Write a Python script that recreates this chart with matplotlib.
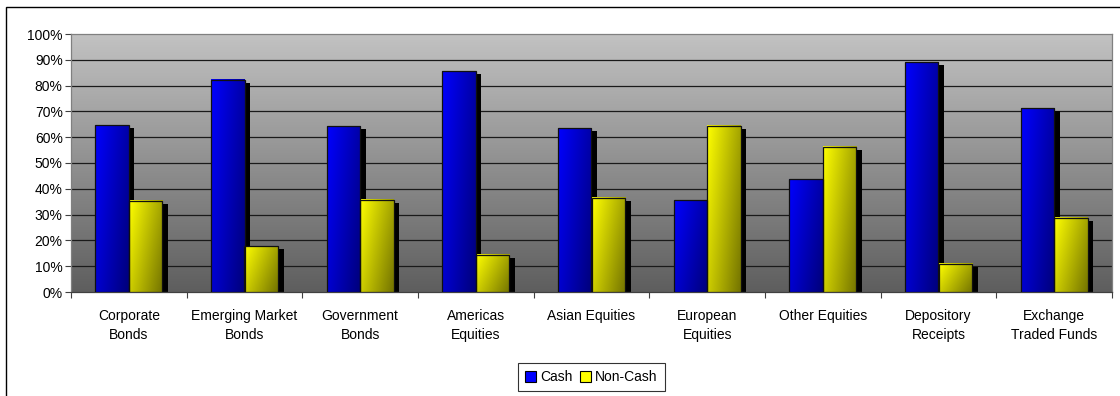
import numpy as np
import matplotlib
matplotlib.use("Agg")
import matplotlib.pyplot as plt
from matplotlib.patches import Rectangle, Patch
from matplotlib.colors import LinearSegmentedColormap
from matplotlib import transforms
from matplotlib.ticker import FixedLocator, PercentFormatter

plt.rcParams['font.family'] = ['Liberation Sans', 'DejaVu Sans']

categories = ["Corporate\nBonds", "Emerging Market\nBonds", "Government\nBonds",
              "Americas\nEquities", "Asian Equities", "European\nEquities",
              "Other Equities", "Depository\nReceipts", "Exchange\nTraded Funds"]
cash = [64.6, 82.3, 64.2, 85.5, 63.5, 35.5, 43.7, 89.1, 71.3]
non_cash = [35.4, 17.7, 35.8, 14.5, 36.5, 64.5, 56.3, 10.9, 28.7]

blue_cmap = LinearSegmentedColormap.from_list("blue", ["#0000ff", "#00007a"])
yellow_cmap = LinearSegmentedColormap.from_list("yellow", ["#ffff00", "#747400"])
bg_cmap = LinearSegmentedColormap.from_list("bg", ["#5e5e5e", "#c2c2c2"])

fig = plt.figure(figsize=(11.2, 3.96), dpi=100)
ax = fig.add_axes([71 / 1120, 1 - 292 / 396, (1112 - 71) / 1120, (292 - 34) / 396])

xmin, xmax = -0.5, len(categories) - 0.5
# grey vertical gradient behind the plot
bg = np.linspace(0, 1, 256).reshape(-1, 1)
ax.imshow(bg, cmap=bg_cmap, extent=[xmin, xmax, 0, 100], origin="lower",
          aspect="auto", zorder=0)

for y in range(10, 100, 10):
    ax.axhline(y, color="#1a1a1a", lw=0.9, zorder=1)

# per-bar gradient: bright top-left, dark bottom-right (rows run top to bottom)
u, v = np.meshgrid(np.linspace(0, 1, 64), np.linspace(0, 1, 64))
grad = 0.65 * u + 0.35 * v

shadow = ax.transData + transforms.ScaledTranslation(5.5 / 100, -3 / 100, fig.dpi_scale_trans)
width = 0.29
for i in range(len(categories)):
    for val, off, cmap in ((cash[i], -width, blue_cmap), (non_cash[i], 0, yellow_cmap)):
        x0 = i + off
        ax.add_patch(Rectangle((x0, 0), width, val, facecolor="black", edgecolor="none",
                               transform=shadow, zorder=2, clip_on=True))
        ax.imshow(grad, cmap=cmap, extent=[x0, x0 + width, 0, val], origin="upper",
                  aspect="auto", zorder=3, interpolation="bilinear")
        ax.add_patch(Rectangle((x0, 0), width, val, facecolor="none",
                               edgecolor="#101010", lw=0.9, zorder=4))

ax.set_xlim(xmin, xmax)
ax.set_ylim(0, 100)
ax.set_aspect("auto")

ax.set_yticks(np.arange(0, 101, 10))
ax.yaxis.set_major_formatter(PercentFormatter(decimals=0))
ax.tick_params(axis="y", length=4, width=0.8, color="#404040", labelsize=10, pad=2)

ax.set_xticks(range(len(categories)))
ax.set_xticklabels(categories, fontsize=10, linespacing=1.5)
ax.tick_params(axis="x", which="major", length=0, pad=12)
ax.xaxis.set_minor_locator(FixedLocator(np.arange(-0.5, len(categories), 1.0)))
ax.tick_params(axis="x", which="minor", length=4, width=0.8, color="#404040", direction="out")

for side in ("top", "right", "left"):
    ax.spines[side].set_color("#808080")
    ax.spines[side].set_linewidth(0.9)
ax.spines["bottom"].set_color("#404040")
ax.spines["bottom"].set_linewidth(0.9)

handles = [Patch(facecolor="#0000ff", edgecolor="black", lw=0.8),
           Patch(facecolor="#ffff00", edgecolor="black", lw=0.8)]
leg = ax.legend(handles, ["Cash", "Non-Cash"], loc="center", bbox_to_anchor=(0.5, -0.331),
                ncol=2, fontsize=10, frameon=True, fancybox=False, handlelength=0.8,
                handleheight=0.8, handletextpad=0.3, columnspacing=0.5,
                borderpad=0.5, borderaxespad=0)
leg.get_frame().set_edgecolor("black")
leg.get_frame().set_linewidth(0.8)

# chart border
fig.patches.append(Rectangle((6 / 1120, -0.1), 1.2, 1 - 7 / 396 + 0.1, fill=False,
                             edgecolor="black", lw=1.0, transform=fig.transFigure))

fig.savefig("out.png", dpi=100)
